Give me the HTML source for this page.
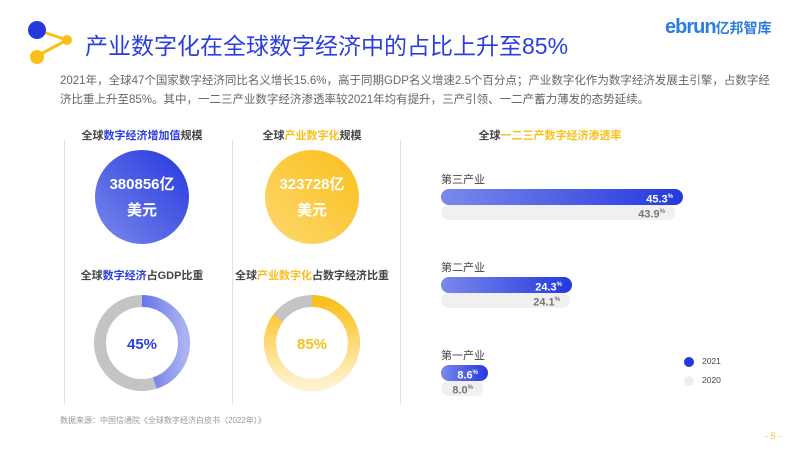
<!DOCTYPE html>
<html><head><meta charset="utf-8"><style>
*{margin:0;padding:0;box-sizing:border-box}
body{width:800px;height:450px;background:#fff;position:relative;overflow:hidden;font-family:"Liberation Sans","Noto Sans CJK SC",sans-serif}
.a{position:absolute;white-space:nowrap}
.h{font-size:11px;font-weight:bold;color:#444;text-align:center}
.b{color:#2b3fe0}.y{color:#fbbf1a}
.vl{position:absolute;width:1px;background:#e2e2e2;top:140px;height:265px}
.circ{position:absolute;width:94px;height:94px;border-radius:50%;color:#fff;font-weight:bold;font-size:15px;text-align:center;line-height:26px;padding-top:22px}
.bar{position:absolute;left:441px;border-radius:9px;text-align:right;font-weight:bold;font-size:11px;padding-right:10px}
.bar sup{font-size:6px}
.c1{background:linear-gradient(90deg,#7b89ea,#2438de);color:#fff;height:16px;line-height:16px}
.c0{background:#f0f0f0;color:#777;height:15px;line-height:15px}
.lab{font-size:11px;color:#444}
</style></head><body>
<svg class="a" style="left:25px;top:18px" width="55" height="50">
<line x1="12" y1="12" x2="42" y2="22" stroke="#fbbf1a" stroke-width="3"/>
<line x1="12" y1="38" x2="42" y2="22" stroke="#fbbf1a" stroke-width="3"/>
<circle cx="12" cy="12" r="9" fill="#2438de"/>
<circle cx="12" cy="39" r="7" fill="#fbbf1a"/>
<circle cx="42" cy="22" r="5" fill="#fbbf1a"/>
</svg>
<div class="a" style="left:85px;top:27px;font-size:23px;color:#2b3fe0">产业数字化在全球数字经济中的占比上升至85%</div>
<div class="a" style="left:665px;top:16px;font-size:20px;font-weight:bold;color:#2b7de0;letter-spacing:-1px">ebrun<span style="font-size:14px;letter-spacing:0">亿邦智库</span></div>
<div class="a" style="left:60px;top:72px;font-size:11.5px;color:#666;line-height:19px">2021年，全球47个国家数字经济同比名义增长15.6%，高于同期GDP名义增速2.5个百分点；产业数字化作为数字经济发展主引擎，占数字经<br>济比重上升至85%。其中，一二三产业数字经济渗透率较2021年均有提升，三产引领、一二产蓄力薄发的态势延续。</div>
<div class="vl" style="left:64px"></div><div class="vl" style="left:232px"></div><div class="vl" style="left:400px"></div>
<div class="a h" style="left:64px;width:156px;top:127px">全球<span class="b">数字经济增加值</span>规模</div>
<div class="a h" style="left:234px;width:156px;top:127px">全球<span class="y">产业数字化</span>规模</div>
<div class="circ" style="left:95px;top:150px;background:linear-gradient(225deg,#2438de,#7b89ea)">380856亿<br>美元</div>
<div class="circ" style="left:265px;top:150px;background:linear-gradient(225deg,#fbbf1a,#fdd870)">323728亿<br>美元</div>
<div class="a h" style="left:64px;width:156px;top:267px">全球<span class="b">数字经济</span>占GDP比重</div>
<div class="a h" style="left:234px;width:156px;top:267px">全球<span class="y">产业数字化</span>占数字经济比重</div>
<svg class="a" style="left:90px;top:291px" width="104" height="104">
<defs><linearGradient id="g1" gradientUnits="userSpaceOnUse" x1="0" y1="10" x2="0" y2="95"><stop offset="0" stop-color="#2438de"/><stop offset="1" stop-color="#aab3f2"/></linearGradient></defs>
<circle cx="52" cy="52" r="42" fill="none" stroke="#c4c4c4" stroke-width="12"/>
<circle cx="52" cy="52" r="42" fill="none" stroke="url(#g1)" stroke-width="12" stroke-dasharray="118.7 400" transform="rotate(-90 52 52)"/>
<text x="52" y="58" text-anchor="middle" font-size="15" font-weight="bold" fill="#2b3fe0" font-family="Liberation Sans">45%</text>
</svg>
<svg class="a" style="left:260px;top:291px" width="104" height="104">
<defs><linearGradient id="g2" gradientUnits="userSpaceOnUse" x1="95" y1="0" x2="10" y2="0"><stop offset="0" stop-color="#fbbf1a"/><stop offset="1" stop-color="#fff3cf"/></linearGradient></defs>
<circle cx="52" cy="52" r="42" fill="none" stroke="#c4c4c4" stroke-width="12"/>
<circle cx="52" cy="52" r="42" fill="none" stroke="url(#g2)" stroke-width="12" stroke-dasharray="224.3 400" transform="rotate(-90 52 52)"/>
<text x="52" y="58" text-anchor="middle" font-size="15" font-weight="bold" fill="#fbbf1a" font-family="Liberation Sans">85%</text>
</svg>
<div class="a h" style="left:420px;width:260px;top:127px">全球<span class="y">一二三产数字经济渗透率</span></div>
<div class="a lab" style="left:441px;top:171px">第三产业</div>
<div class="bar c0" style="top:205px;width:234px">43.9<sup>%</sup></div>
<div class="bar c1" style="top:189px;width:242px">45.3<sup>%</sup></div>
<div class="a lab" style="left:441px;top:259px">第二产业</div>
<div class="bar c0" style="top:293px;width:129px">24.1<sup>%</sup></div>
<div class="bar c1" style="top:277px;width:131px">24.3<sup>%</sup></div>
<div class="a lab" style="left:441px;top:347px">第一产业</div>
<div class="bar c0" style="top:381px;width:42px">8.0<sup>%</sup></div>
<div class="bar c1" style="top:365px;width:47px">8.6<sup>%</sup></div>
<div class="a" style="left:684px;top:357px;width:10px;height:10px;border-radius:50%;background:#2438de"></div>
<div class="a" style="left:702px;top:356px;font-size:8.5px;color:#444">2021</div>
<div class="a" style="left:684px;top:376px;width:10px;height:10px;border-radius:50%;background:#eee"></div>
<div class="a" style="left:702px;top:375px;font-size:8.5px;color:#444">2020</div>
<div class="a" style="left:60px;top:415px;font-size:8px;color:#999">数据来源：中国信通院《全球数字经济白皮书（2022年）》</div>
<div class="a" style="left:765px;top:431px;font-size:9px;color:#fbbf1a">- 5 -</div>
</body></html>
